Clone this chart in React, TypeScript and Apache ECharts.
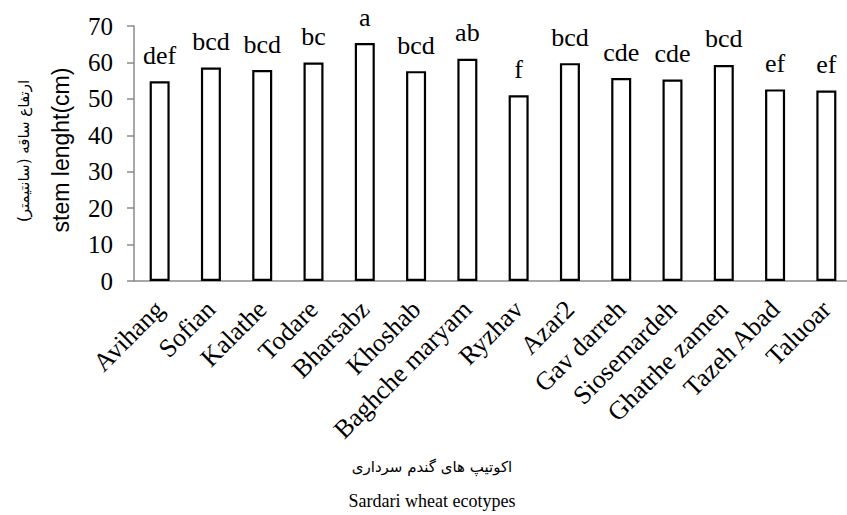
import React, { useEffect, useRef } from "react";
import * as echarts from "echarts";

const categories = [
  "Avihang", "Sofian", "Kalathe", "Todare", "Bharsabz", "Khoshab", "Baghche maryam",
  "Ryzhav", "Azar2", "Gav darreh", "Siosemardeh", "Ghatrhe zamen", "Tazeh Abad", "Taluoar",
];
const stemLength = [54.8, 58.6, 57.9, 60.0, 65.3, 57.6, 61.0, 51.0, 59.8, 55.7, 55.3, 59.3, 52.6, 52.3];
const groupLetters = ["def", "bcd", "bcd", "bc", "a", "bcd", "ab", "f", "bcd", "cde", "cde", "bcd", "ef", "ef"];
const yTicks = { min: 0, max: 70, interval: 10 };

const SERIF = "Liberation Serif";

export default function App() {
  const ref = useRef<HTMLDivElement>(null);
  useEffect(() => {
    if (!ref.current) return;
    const chart = echarts.init(ref.current, null, { renderer: "svg" });
    chart.setOption({
      animation: false,
      backgroundColor: "#ffffff",
      grid: {
        left: 134,
        top: 26,
        width: 718,
        bottom: 234,
        containLabel: false,
        outerBoundsMode: "none",
      },
      xAxis: {
        type: "category",
        data: categories,
        axisLine: { lineStyle: { color: "#8a8a8a", width: 1.5 } },
        axisTick: { length: 6, lineStyle: { color: "#8a8a8a", width: 1.5 } },
        axisLabel: {
          rotate: 45,
          interval: 0,
          margin: 24,
          color: "#000",
          fontFamily: SERIF,
          fontSize: 26,
        },
      },
      yAxis: {
        type: "value",
        min: yTicks.min,
        max: yTicks.max,
        interval: yTicks.interval,
        splitLine: { show: false },
        axisLine: { show: true, lineStyle: { color: "#8a8a8a", width: 1.5 } },
        axisTick: { show: true, length: 7, lineStyle: { color: "#8a8a8a", width: 1.5 } },
        axisLabel: { color: "#000", fontFamily: SERIF, fontSize: 25, margin: 21 },
      },
      series: [
        {
          type: "bar",
          data: stemLength,
          barWidth: 20,
          itemStyle: { color: "#ffffff", borderColor: "#000000", borderWidth: 2.2 },
          label: {
            show: true,
            position: "top",
            distance: 13,
            color: "#000",
            fontFamily: SERIF,
            fontSize: 26,
            formatter: (p: any) => groupLetters[p.dataIndex],
          },
        },
      ],
      graphic: [
        {
          type: "text",
          x: 61,
          y: 150,
          rotation: Math.PI / 2,
          style: {
            text: "stem lenght(cm)",
            font: "23px 'Liberation Sans', Arial, sans-serif",
            fill: "#000",
            textAlign: "center",
            textVerticalAlign: "middle",
          },
        },
        {
          type: "text",
          x: 24,
          y: 151,
          rotation: Math.PI / 2,
          style: {
            text: "ارتفاع ساقه (سانتیمتر)",
            font: "15px 'DejaVu Sans', sans-serif",
            fill: "#000",
            textAlign: "center",
            textVerticalAlign: "middle",
          },
        },
        {
          type: "text",
          x: 432,
          y: 467,
          style: {
            text: "اکوتیپ های گندم سرداری",
            font: "15px 'DejaVu Sans', sans-serif",
            fill: "#000",
            textAlign: "center",
            textVerticalAlign: "middle",
          },
        },
        {
          type: "text",
          x: 432,
          y: 501,
          style: {
            text: "Sardari wheat ecotypes",
            font: "18px 'Liberation Serif', serif",
            fill: "#000",
            textAlign: "center",
            textVerticalAlign: "middle",
          },
        },
      ],
    });
    return () => chart.dispose();
  }, []);
  return (
    <div
      ref={ref}
      style={{ position: "fixed", left: 0, top: 0, width: 847, height: 515, background: "#fff" }}
    />
  );
}
